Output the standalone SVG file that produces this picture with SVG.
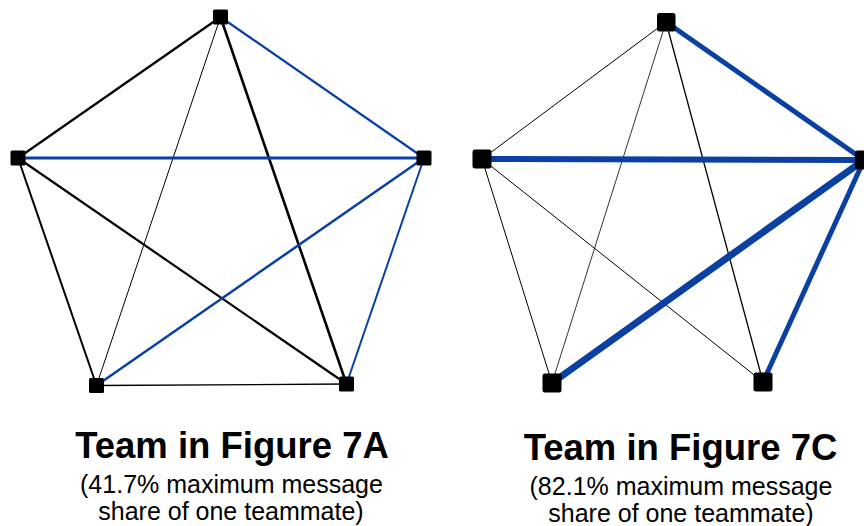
<svg xmlns="http://www.w3.org/2000/svg" width="864" height="526" viewBox="0 0 864 526">
<style>
.k{stroke:#000;fill:none;stroke-linecap:butt}
.b{stroke:#0a3fa3;fill:none}
.n{fill:#000}
.t{font-family:"Liberation Sans",Arial,sans-serif;font-weight:bold;font-size:36.5px;text-anchor:middle;fill:#000}
.s{font-family:"Liberation Sans",Arial,sans-serif;font-size:25px;text-anchor:middle;fill:#000}
</style>
<rect width="864" height="526" fill="#fff"/>
<g id="connectors">
<g id="edges-7A">
<line class="k" x1="220.5" y1="17" x2="18" y2="158" stroke-width="2.2"/>
<line class="k" x1="220.5" y1="17" x2="96.5" y2="385.5" stroke-width="1"/>
<line class="k" x1="220.5" y1="17" x2="346.5" y2="384" stroke-width="2.6"/>
<line class="b" x1="220.5" y1="17" x2="424" y2="158" stroke-width="2.2"/>
<line class="b" x1="18" y1="158" x2="424" y2="158" stroke-width="3"/>
<line class="k" x1="18" y1="158" x2="96.5" y2="385.5" stroke-width="2"/>
<line class="k" x1="18" y1="158" x2="346.5" y2="384" stroke-width="2.2"/>
<line class="b" x1="424" y1="158" x2="96.5" y2="385.5" stroke-width="2.5"/>
<line class="b" x1="424" y1="158" x2="346.5" y2="384" stroke-width="2"/>
<line class="k" x1="96.5" y1="385.5" x2="346.5" y2="384" stroke-width="1.3"/>
</g>
<g id="edges-7C">
<line class="k" x1="666" y1="22" x2="482" y2="159" stroke-width="1"/>
<line class="k" x1="666" y1="22" x2="552" y2="383" stroke-width="0.8"/>
<line class="k" x1="666" y1="22" x2="763" y2="382" stroke-width="1.3"/>
<line class="b" x1="666" y1="22" x2="864" y2="160" stroke-width="5"/>
<line class="b" x1="482" y1="159" x2="864" y2="160" stroke-width="6"/>
<line class="k" x1="482" y1="159" x2="552" y2="383" stroke-width="1"/>
<line class="k" x1="482" y1="159" x2="763" y2="382" stroke-width="1"/>
<line class="b" x1="864" y1="160" x2="552" y2="383" stroke-width="7"/>
<line class="b" x1="864" y1="160" x2="763" y2="382" stroke-width="5"/>
</g>
</g>
<g id="node-7A-top"><rect class="n" x="213" y="9.5" width="15" height="15" rx="1.5"/></g>
<g id="node-7A-left"><rect class="n" x="10.5" y="150.5" width="15" height="15" rx="1.5"/></g>
<g id="node-7A-right"><rect class="n" x="416.5" y="150.5" width="15" height="15" rx="1.5"/></g>
<g id="node-7A-bottomleft"><rect class="n" x="89" y="378" width="15" height="15" rx="1.5"/></g>
<g id="node-7A-bottomright"><rect class="n" x="339" y="376.5" width="15" height="15" rx="1.5"/></g>
<g id="node-7C-top"><rect class="n" x="657" y="13" width="18.5" height="18.5" rx="2.5"/></g>
<g id="node-7C-left"><rect class="n" x="472.5" y="149.5" width="19" height="19" rx="2.5"/></g>
<g id="node-7C-right"><rect class="n" x="855" y="150.5" width="19" height="19" rx="2.5"/></g>
<g id="node-7C-bottomleft"><rect class="n" x="542.5" y="373.5" width="19" height="19" rx="2.5"/></g>
<g id="node-7C-bottomright"><rect class="n" x="753.5" y="372.5" width="19" height="19" rx="2.5"/></g>
<g id="label-7A">
<text class="t" x="232" y="458">Team in Figure 7A</text>
<text class="s" x="231.5" y="493">(41.7% maximum message</text>
<text class="s" x="231" y="520">share of one teammate)</text>
</g>
<g id="label-7C">
<text class="t" x="680.5" y="460">Team in Figure 7C</text>
<text class="s" x="681" y="495">(82.1% maximum message</text>
<text class="s" x="681" y="522">share of one teammate)</text>
</g>
</svg>
